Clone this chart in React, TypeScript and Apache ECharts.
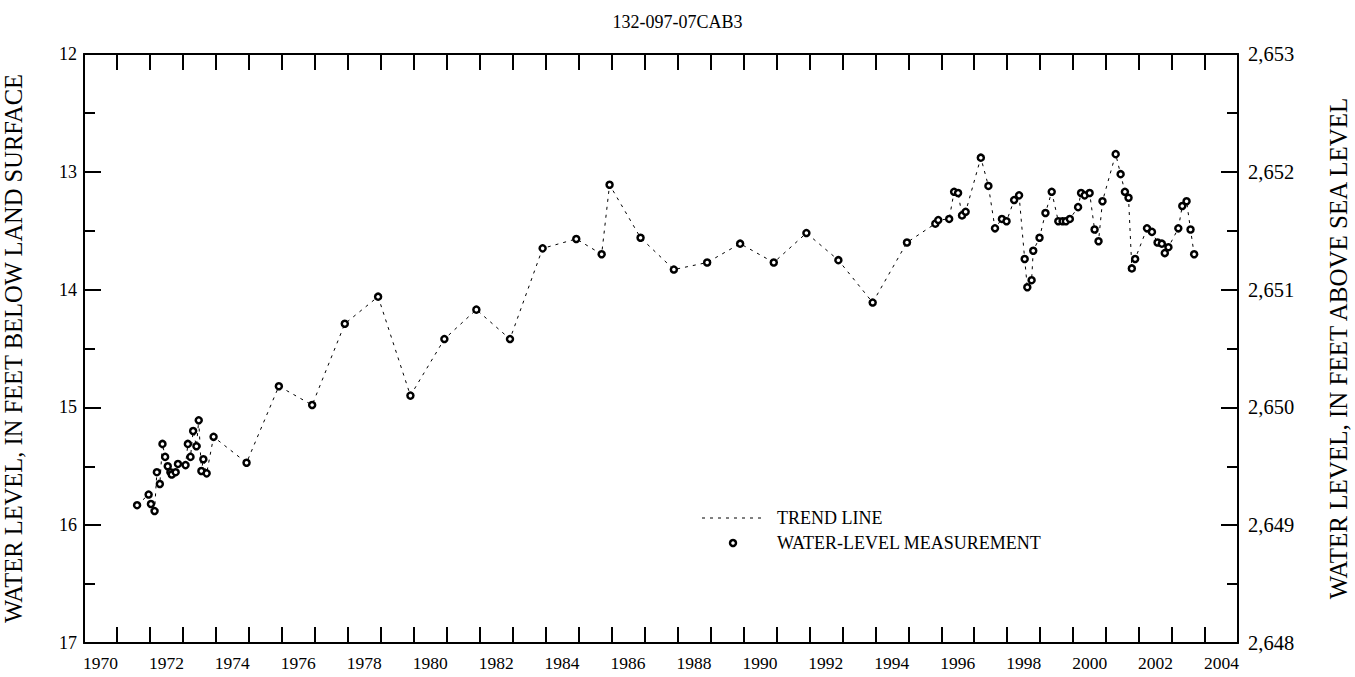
import React, { useEffect, useRef } from "react";
import * as echarts from "echarts";

const TITLE = "132-097-07CAB3";
const FONT = "'Liberation Serif', 'DejaVu Serif', serif";

// decimal year of each measurement
const years: number[] = [
  1971.61, 1971.96, 1972.03, 1972.14, 1972.21, 1972.30, 1972.38, 1972.46, 1972.54, 1972.62,
  1972.66, 1972.78, 1972.85, 1973.08, 1973.15, 1973.23, 1973.31, 1973.41, 1973.48, 1973.56,
  1973.62, 1973.72, 1973.93, 1974.93, 1975.91, 1976.92, 1977.91, 1978.92, 1979.90, 1980.93,
  1981.90, 1982.92, 1983.91, 1984.93, 1985.70, 1985.94, 1986.88, 1987.89, 1988.90, 1989.90,
  1990.92, 1991.91, 1992.88, 1993.92, 1994.96, 1995.82, 1995.91, 1996.24, 1996.39, 1996.51,
  1996.63, 1996.74, 1997.20, 1997.43, 1997.63, 1997.84, 1997.98, 1998.21, 1998.36, 1998.53,
  1998.61, 1998.74, 1998.79, 1998.98, 1999.16, 1999.35, 1999.55, 1999.68, 1999.78, 1999.90,
  2000.15, 2000.24, 2000.35, 2000.50, 2000.65, 2000.77, 2000.89, 2001.29, 2001.44, 2001.57,
  2001.68, 2001.78, 2001.88, 2002.24, 2002.39, 2002.56, 2002.69, 2002.78, 2002.89, 2003.19,
  2003.31, 2003.44, 2003.56, 2003.67,
];

// water level, feet below land surface
const levels: number[] = [
  15.83, 15.74, 15.82, 15.88, 15.55, 15.65, 15.31, 15.42, 15.50, 15.55,
  15.57, 15.55, 15.48, 15.49, 15.31, 15.42, 15.20, 15.33, 15.11, 15.54,
  15.44, 15.56, 15.25, 15.47, 14.82, 14.98, 14.29, 14.06, 14.90, 14.42,
  14.17, 14.42, 13.65, 13.57, 13.70, 13.11, 13.56, 13.83, 13.77, 13.61,
  13.77, 13.52, 13.75, 14.11, 13.60, 13.44, 13.41, 13.40, 13.17, 13.18,
  13.37, 13.34, 12.88, 13.12, 13.48, 13.40, 13.42, 13.24, 13.20, 13.74,
  13.98, 13.92, 13.67, 13.56, 13.35, 13.17, 13.42, 13.42, 13.42, 13.40,
  13.30, 13.18, 13.20, 13.18, 13.49, 13.59, 13.25, 12.85, 13.02, 13.17,
  13.22, 13.82, 13.74, 13.48, 13.51, 13.60, 13.61, 13.69, 13.64, 13.48,
  13.29, 13.25, 13.49, 13.70,
];

const yearLabels: string[] = [];
for (let y = 1970; y <= 2004; y++) yearLabels.push(String(y));

const LEFT_NAME = "WATER LEVEL, IN FEET BELOW LAND SURFACE";
const RIGHT_NAME = "WATER LEVEL, IN FEET ABOVE SEA LEVEL";
const LEGEND_LINE = "TREND LINE";
const LEGEND_POINT = "WATER-LEVEL MEASUREMENT";

export default function App() {
  const ref = useRef<HTMLDivElement>(null);
  useEffect(() => {
    if (!ref.current) return;
    const chart = echarts.init(ref.current, null, { renderer: "svg" });
    const data = years.map((y, i) => [y, levels[i]]);
    const axisLine = { show: true, lineStyle: { color: "#000", width: 2 } };
    const tickStyle = { color: "#000", width: 2 };
    const labelStyle = { color: "#000", fontFamily: FONT, fontSize: 18 };
    chart.setOption({
      animation: false,
      backgroundColor: "#fff",
      textStyle: { fontFamily: FONT },
      title: {
        text: TITLE,
        left: "center",
        top: 8,
        textStyle: { fontFamily: FONT, fontSize: 18, fontWeight: "normal", color: "#000" },
      },
      grid: {
        left: 84,
        top: 54,
        right: 117,
        bottom: 34,
        containLabel: false,
        outerBoundsMode: "none",
      },
      xAxis: [
        {
          type: "value",
          position: "bottom",
          min: 1970,
          max: 2005,
          interval: 1,
          axisLine,
          axisTick: { show: true, inside: true, length: 16, lineStyle: tickStyle },
          axisLabel: { show: false },
          splitLine: { show: false },
        },
        {
          type: "category",
          position: "bottom",
          data: yearLabels,
          boundaryGap: true,
          axisLine: { show: false },
          axisTick: { show: false },
          axisLabel: { ...labelStyle, fontSize: 17.5, interval: 1, margin: 11 },
          splitLine: { show: false },
        },
        {
          type: "value",
          position: "top",
          min: 1970,
          max: 2005,
          interval: 1,
          axisLine,
          axisTick: { show: true, inside: true, length: 16, lineStyle: tickStyle },
          axisLabel: { show: false },
          splitLine: { show: false },
        },
      ],
      yAxis: [
        {
          type: "value",
          position: "left",
          inverse: true,
          min: 12,
          max: 17,
          interval: 1,
          axisLine,
          axisTick: { show: true, inside: true, length: 17, lineStyle: tickStyle },
          minorTick: { show: true, splitNumber: 2, length: 11, lineStyle: tickStyle },
          axisLabel: { ...labelStyle, margin: 7 },
          splitLine: { show: false },
          name: LEFT_NAME,
          nameLocation: "middle",
          nameRotate: 90,
          nameGap: 58,
          nameTextStyle: { color: "#000", fontFamily: FONT, fontSize: 24.5 },
        },
        {
          type: "value",
          position: "right",
          min: 2648,
          max: 2653,
          interval: 1,
          axisLine,
          axisTick: { show: true, inside: true, length: 17, lineStyle: tickStyle },
          minorTick: { show: true, splitNumber: 2, length: 11, lineStyle: tickStyle },
          axisLabel: {
            ...labelStyle,
            fontSize: 20.5,
            margin: 10,
            formatter: (v: number) => v.toLocaleString("en-US"),
          },
          splitLine: { show: false },
          name: RIGHT_NAME,
          nameLocation: "middle",
          nameRotate: 90,
          nameGap: 88,
          nameTextStyle: { color: "#000", fontFamily: FONT, fontSize: 25 },
        },
      ],
      series: [
        {
          type: "line",
          xAxisIndex: 0,
          yAxisIndex: 0,
          data,
          lineStyle: { color: "#000", width: 1, type: [3, 5] },
          symbol: "circle",
          symbolSize: 6,
          itemStyle: { color: "#fff", borderColor: "#000", borderWidth: 2.5 },
          z: 3,
        },
      ],
      graphic: [
        {
          type: "line",
          shape: { x1: 702, y1: 518, x2: 766, y2: 518 },
          style: { stroke: "#000", lineWidth: 1, lineDash: [3, 5] },
        },
        {
          type: "text",
          x: 777,
          y: 518,
          style: {
            text: LEGEND_LINE,
            fill: "#000",
            font: `18px ${FONT}`,
            verticalAlign: "middle",
          },
        },
        {
          type: "circle",
          shape: { cx: 733, cy: 543, r: 3 },
          style: { fill: "#fff", stroke: "#000", lineWidth: 2.5 },
        },
        {
          type: "text",
          x: 777,
          y: 543,
          style: {
            text: LEGEND_POINT,
            fill: "#000",
            font: `18px ${FONT}`,
            verticalAlign: "middle",
          },
        },
      ],
    });
    return () => chart.dispose();
  }, []);
  return (
    <div
      ref={ref}
      style={{ position: "fixed", left: 0, top: 0, width: 1355, height: 677 }}
    />
  );
}
